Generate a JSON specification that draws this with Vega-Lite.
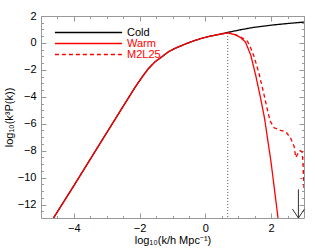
{
  "$schema": "https://vega.github.io/schema/vega-lite/v6.json",
  "autosize": {"type": "none"},
  "width": 263,
  "height": 202,
  "padding": {"left": 41, "top": 16, "right": 11, "bottom": 34},
  "background": "white",
  "config": {
    "view": {"stroke": null},
    "font": "Liberation Sans",
    "axis": {"grid": false, "domainColor": "#999999", "tickColor": "#999999", "labelColor": "#000000", "titleColor": "#000000", "labelFont": "Liberation Sans", "titleFont": "Liberation Sans", "labelFontSize": 11, "titleFontSize": 11, "titleFontWeight": "normal", "labelFlush": false, "labelOverlap": false}
  },
  "resolve": {"axis": {"x": "independent", "y": "independent"}},
  "layer": [
    {
      "data": {"values": [
        {"series": "Cold", "x": -4.62, "y": -13}, {"series": "Cold", "x": -4.0, "y": -10.6}, {"series": "Cold", "x": -3.5, "y": -8.63}, {"series": "Cold", "x": -3.06, "y": -6.9}, {"series": "Cold", "x": -2.55, "y": -4.9}, {"series": "Cold", "x": -2.14, "y": -3.3}, {"series": "Cold", "x": -1.9, "y": -2.45}, {"series": "Cold", "x": -1.73, "y": -1.9}, {"series": "Cold", "x": -1.53, "y": -1.4}, {"series": "Cold", "x": -1.32, "y": -1.02}, {"series": "Cold", "x": -1.12, "y": -0.65}, {"series": "Cold", "x": -0.92, "y": -0.4}, {"series": "Cold", "x": -0.56, "y": -0.03}, {"series": "Cold", "x": -0.3, "y": 0.2}, {"series": "Cold", "x": -0.05, "y": 0.39}, {"series": "Cold", "x": 0.2, "y": 0.53}, {"series": "Cold", "x": 0.46, "y": 0.66}, {"series": "Cold", "x": 0.68, "y": 0.78}, {"series": "Cold", "x": 1.07, "y": 0.98}, {"series": "Cold", "x": 1.48, "y": 1.16}, {"series": "Cold", "x": 2.0, "y": 1.32}, {"series": "Cold", "x": 2.4, "y": 1.42}, {"series": "Cold", "x": 3.0, "y": 1.55},
        {"series": "Warm", "x": -4.62, "y": -13}, {"series": "Warm", "x": -4.0, "y": -10.6}, {"series": "Warm", "x": -3.5, "y": -8.63}, {"series": "Warm", "x": -3.06, "y": -6.9}, {"series": "Warm", "x": -2.55, "y": -4.9}, {"series": "Warm", "x": -2.14, "y": -3.3}, {"series": "Warm", "x": -1.9, "y": -2.45}, {"series": "Warm", "x": -1.73, "y": -1.9}, {"series": "Warm", "x": -1.53, "y": -1.4}, {"series": "Warm", "x": -1.32, "y": -1.02}, {"series": "Warm", "x": -1.12, "y": -0.65}, {"series": "Warm", "x": -0.92, "y": -0.4}, {"series": "Warm", "x": -0.56, "y": -0.03}, {"series": "Warm", "x": -0.3, "y": 0.2}, {"series": "Warm", "x": -0.05, "y": 0.39}, {"series": "Warm", "x": 0.2, "y": 0.53}, {"series": "Warm", "x": 0.46, "y": 0.66}, {"series": "Warm", "x": 0.68, "y": 0.74}, {"series": "Warm", "x": 0.9, "y": 0.62}, {"series": "Warm", "x": 1.07, "y": 0.4}, {"series": "Warm", "x": 1.22, "y": 0.06}, {"series": "Warm", "x": 1.38, "y": -0.9}, {"series": "Warm", "x": 1.53, "y": -2.4}, {"series": "Warm", "x": 1.68, "y": -4.1}, {"series": "Warm", "x": 1.8, "y": -5.6}, {"series": "Warm", "x": 2.0, "y": -8.9}, {"series": "Warm", "x": 2.21, "y": -13},
        {"series": "M2L25", "x": 0.46, "y": 0.66}, {"series": "M2L25", "x": 0.68, "y": 0.74}, {"series": "M2L25", "x": 0.9, "y": 0.63}, {"series": "M2L25", "x": 1.07, "y": 0.44}, {"series": "M2L25", "x": 1.15, "y": 0.32}, {"series": "M2L25", "x": 1.28, "y": 0.12}, {"series": "M2L25", "x": 1.38, "y": -0.38}, {"series": "M2L25", "x": 1.48, "y": -1.0}, {"series": "M2L25", "x": 1.63, "y": -2.25}, {"series": "M2L25", "x": 1.78, "y": -3.8}, {"series": "M2L25", "x": 1.91, "y": -5.2}, {"series": "M2L25", "x": 1.97, "y": -5.8}, {"series": "M2L25", "x": 2.09, "y": -6.3}, {"series": "M2L25", "x": 2.29, "y": -6.5}, {"series": "M2L25", "x": 2.45, "y": -6.6}, {"series": "M2L25", "x": 2.6, "y": -7.1}, {"series": "M2L25", "x": 2.7, "y": -7.7}, {"series": "M2L25", "x": 2.75, "y": -8.5}, {"series": "M2L25", "x": 2.82, "y": -8.2}, {"series": "M2L25", "x": 2.88, "y": -8.0}, {"series": "M2L25", "x": 2.94, "y": -8.07}, {"series": "M2L25", "x": 2.97, "y": -8.9}, {"series": "M2L25", "x": 3.0, "y": -10.8}
      ]},
      "mark": {"type": "line", "strokeWidth": 1.3, "clip": true},
      "encoding": {
        "x": {"field": "x", "type": "quantitative", "scale": {"domain": [-5, 3], "nice": false, "zero": false},
          "axis": {"orient": "bottom", "values": [-4, -2, 0, 2], "tickSize": -5, "labelPadding": 9, "title": "log₁₀(k/h Mpc⁻¹)", "titlePadding": 1}},
        "y": {"field": "y", "type": "quantitative", "scale": {"domain": [-13, 2], "nice": false, "zero": false},
          "axis": {"orient": "left", "values": [-12, -10, -8, -6, -4, -2, 0, 2], "tickSize": -5, "labelPadding": 10, "title": "log₁₀(k³P(k))", "titlePadding": 3}},
        "color": {"field": "series", "type": "nominal", "scale": {"domain": ["Cold", "Warm", "M2L25"], "range": ["#000000", "#ff0000", "#ff0000"]},
          "legend": {"title": null, "orient": "none", "legendX": 42, "legendY": 11, "padding": 0, "symbolType": "M-11.2,0H11.2", "symbolSize": 36, "symbolStrokeWidth": 1.5, "labelFont": "Liberation Sans", "labelFontSize": 11, "labelOffset": 33, "rowPadding": -1,
            "encode": {
              "labels": {"update": {"fill": {"signal": "datum.value === 'Cold' ? '#000000' : '#ff0000'"}}},
              "symbols": {"update": {"stroke": {"scale": "color", "field": "value"}, "strokeDash": {"scale": "strokeDash", "field": "value"}}}
            }}},
        "strokeDash": {"field": "series", "type": "nominal", "scale": {"domain": ["Cold", "Warm", "M2L25"], "range": [[1, 0], [1, 0], [4, 3]]}, "legend": null},
        "order": {"field": "x", "type": "quantitative"}
      }
    },
    {
      "data": {"values": [{"x": 0.68, "y": 0.74, "y2": -13}]},
      "mark": {"type": "rule", "color": "#555555", "strokeWidth": 1, "strokeDash": [1, 2]},
      "encoding": {
        "x": {"field": "x", "type": "quantitative", "axis": {"orient": "bottom", "values": [-4.5, -3.5, -3, -2.5, -1.5, -1, -0.5, 0.5, 1, 1.5, 2.5], "tickSize": -2.5, "labels": false, "domain": false, "title": null}},
        "y": {"field": "y", "type": "quantitative", "axis": {"orient": "left", "values": [-12.5, -11.5, -11, -10.5, -9.5, -9, -8.5, -7.5, -7, -6.5, -5.5, -5, -4.5, -3.5, -3, -2.5, -1.5, -1, -0.5, 0.5, 1, 1.5], "tickSize": -2.5, "labels": false, "domain": false, "title": null}},
        "y2": {"field": "y2"}
      }
    },
    {
      "data": {"values": [{"x": 2.83, "y": -10.87, "y2": -13}]},
      "mark": {"type": "rule", "color": "#333333", "strokeWidth": 1},
      "encoding": {
        "x": {"field": "x", "type": "quantitative", "axis": {"orient": "top", "values": [-4, -2, 0, 2], "tickSize": -5, "labels": false, "domain": true, "title": null}},
        "y": {"field": "y", "type": "quantitative", "axis": {"orient": "right", "values": [-12, -10, -8, -6, -4, -2, 0, 2], "tickSize": -5, "labels": false, "domain": true, "title": null}},
        "y2": {"field": "y2"}
      }
    },
    {
      "data": {"values": [{"x": 2.83, "y": -13}]},
      "mark": {"type": "point", "shape": "M-0.67,-1L0,0L0.67,-1", "size": 324, "filled": false, "stroke": "#333333", "strokeWidth": 1, "opacity": 1},
      "encoding": {
        "x": {"field": "x", "type": "quantitative", "axis": {"orient": "top", "values": [-4.5, -3.5, -3, -2.5, -1.5, -1, -0.5, 0.5, 1, 1.5, 2.5], "tickSize": -2.5, "labels": false, "domain": false, "title": null}},
        "y": {"field": "y", "type": "quantitative", "axis": {"orient": "right", "values": [-12.5, -11.5, -11, -10.5, -9.5, -9, -8.5, -7.5, -7, -6.5, -5.5, -5, -4.5, -3.5, -3, -2.5, -1.5, -1, -0.5, 0.5, 1, 1.5], "tickSize": -2.5, "labels": false, "domain": false, "title": null}}
      }
    }
  ]
}
